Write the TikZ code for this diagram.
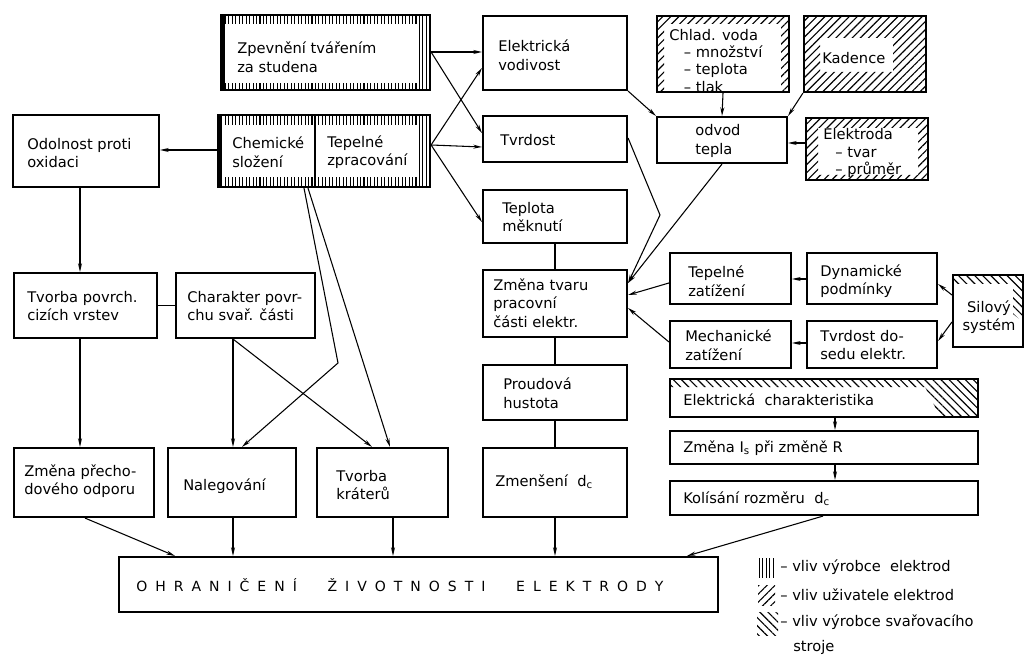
\documentclass[tikz,border=0pt]{standalone}
\usepackage{fontspec}
\setmainfont{DejaVu Sans}
\usetikzlibrary{arrows.meta,fit,patterns.meta}
\newcommand\lgapx{\hspace{6pt}}
\newcommand\wgapx{\hspace{23pt}}
\begin{document}
\begin{tikzpicture}[x=0.75pt,y=-0.75pt,
  box/.style={draw, line width=1.6pt, inner sep=0pt},
  txt/.style={font=\fontsize{11pt}{14pt}\selectfont, align=left, inner sep=0pt, anchor=west},
  lst/.style={font=\fontsize{11pt}{12.8pt}\selectfont, align=left, inner sep=0pt, anchor=west},
  con/.style={line width=0.8pt},
  arr/.style={con, -{Stealth[length=6.5pt,width=3pt]}},
  vh/.style={pattern={Lines[angle=90,distance=2.6pt,line width=0.8pt]}},
  uh/.style={pattern={Lines[angle=45,distance=4.3pt,line width=0.85pt]}},
  mh/.style={pattern={Lines[angle=-45,distance=4.3pt,line width=0.85pt]}},
]
\useasboundingbox (0,0) rectangle (1030,655);

% ---------- hatching (drawn first) ----------
% vliv vyrobce elektrod (vertical)
\fill (221,15) rectangle (225,90);
\fill[vh] (225,15) rectangle (418,24);
\fill[vh] (225,84) rectangle (418,90);
\fill[vh] (418,15) rectangle (430,90);
\fill (218,115) rectangle (222,187);
\fill[vh] (222,115) rectangle (418,125);
\fill[vh] (222,178) rectangle (418,187);
\fill[vh] (418,115) rectangle (430,187);
% vliv uzivatele (///)
\fill[uh, even odd rule] (657,16) rectangle (789,92) (664,24) rectangle (781,92);
\fill[uh, even odd rule] (804,16) rectangle (926,92) (820,38) rectangle (893,72);
\fill[uh, even odd rule] (806,118) rectangle (928,180) (818,128) rectangle (918,175);
% vliv vyrobce svarovaciho stroje (\\\)
\fill[mh] (953,275) -- (1023,275) -- (1023,322) -- (1013,314) -- (1013,284) -- (953,284) -- cycle;
\fill[mh] (670,379) -- (978,379) -- (978,417) -- (940,417) -- (925,387) -- (670,387) -- cycle;

% ---------- boxes ----------
\node[box, fit={(221,15)(430,90)}] (zp) {};
\node[box, fit={(218,115)(315,187)}] (chem) {};
\node[box, fit={(315,115)(430,187)}] (tep) {};
\node[box, fit={(13,115)(159,187)}] (odol) {};
\node[box, fit={(483,16)(627,90)}] (vod) {};
\node[box, fit={(483,116)(627,162)}] (tvr) {};
\node[box, fit={(483,190)(627,243)}] (tm) {};
\node[box, fit={(483,270)(627,337)}] (zt) {};
\node[box, fit={(483,365)(627,420)}] (ph) {};
\node[box, fit={(483,448)(627,517)}] (zm) {};
\node[box, fit={(657,16)(789,92)}] (chl) {};
\node[box, fit={(804,16)(926,92)}] (kad) {};
\node[box, fit={(657,117)(787,163)}] (odv) {};
\node[box, fit={(806,118)(928,180)}] (ele) {};
\node[box, fit={(670,253)(791,304)}] (tz) {};
\node[box, fit={(807,253)(937,304)}] (dyn) {};
\node[box, fit={(953,275)(1023,347)}] (sil) {};
\node[box, fit={(670,321)(791,368)}] (mz) {};
\node[box, fit={(807,321)(937,368)}] (td) {};
\node[box, fit={(670,379)(978,417)}] (ech) {};
\node[box, fit={(670,431)(978,464)}] (zis) {};
\node[box, fit={(670,481)(978,515)}] (kol) {};
\node[box, fit={(14,273)(157,338)}] (tpv) {};
\node[box, fit={(176,273)(315,338)}] (chp) {};
\node[box, fit={(14,448)(154,517)}] (zpo) {};
\node[box, fit={(168,448)(296,517)}] (nal) {};
\node[box, fit={(317,448)(448,517)}] (tk) {};
\node[box, fit={(119,557)(718,612)}] (ohr) {};

% ---------- texts ----------
\node[txt] (odolT) at (27,153) {Odolnost proti\\oxidaci};
\node[txt] (zpT) at (237,57) {Zpevnění tvářením\\za studena};
\node[txt] (chemT) at (232,152) {Chemické\\složení};
\node[txt] (tepT) at (327,152) {Tepelné\\zpracování};
\node[txt] (vodT) at (498,55) {Elektrická\\vodivost};
\node[txt] (tvrT) at (500,140) {Tvrdost};
\node[txt] (tmT) at (502,217) {Teplota\\měknutí};
\node[txt] (ztT) at (493,303) {Změna tvaru\\pracovní\\části elektr.};
\node[txt] (phT) at (503,393) {Proudová\\hustota};
\node[txt] (zmT) at (495,482) {Zmenšení\ \ d\textsubscript{c}};
\node[lst] (chlT) at (669,61) {Chlad. voda\\\quad– množství\\\quad– teplota\\\quad– tlak};
\node[txt] (kadT) at (822,58) {Kadence};
\node[txt] (odvT) at (695,141) {odvod\\tepla};
\node[lst] (eleT) at (823,153) {Elektroda\\\hspace{9pt}– tvar\\\hspace{9pt}– průměr};
\node[txt] (tzT) at (688,281) {Tepelné\\zatížení};
\node[txt] (dynT) at (820,281) {Dynamické\\podmínky};
\node[txt, align=center, anchor=center] (silT) at (989,317) {Silový\\systém};
\node[txt] (mzT) at (685,345) {Mechanické\\zatížení};
\node[txt] (tdT) at (820,345) {Tvrdost do-\\sedu elektr.};
\node[txt] (echT) at (683,400) {Elektrická\ \ charakteristika};
\node[txt] (zisT) at (683,448) {Změna I\textsubscript{s}\ při změně R};
\node[txt] (kolT) at (683,499) {Kolísání rozměru\ \ d\textsubscript{c}};
\node[txt] (tpvT) at (27,306) {Tvorba povrch.\\cizích vrstev};
\node[txt] (chpT) at (187,306) {Charakter povr-\\chu svař. části};
\node[txt] (zpoT) at (24,481) {Změna přecho-\\dového odporu};
\node[txt] (nalT) at (183,486) {Nalegování};
\node[txt] (tkT) at (336,485) {Tvorba\\kráterů};
\node[txt, font=\fontsize{10.5pt}{12pt}\selectfont] (ohrT) at (136,585)
  {O\lgapx H\lgapx R\lgapx A\lgapx N\lgapx I\lgapx Č\lgapx E\lgapx N\lgapx Í\wgapx Ž\lgapx I\lgapx V\lgapx O\lgapx T\lgapx N\lgapx O\lgapx S\lgapx T\lgapx I\wgapx E\lgapx L\lgapx E\lgapx K\lgapx T\lgapx R\lgapx O\lgapx D\lgapx Y};

% ---------- connectors ----------
\draw[arr] (chem.west |- 0,150) -- (odol.east |- 0,150);
\draw[arr] (zp.east |- 0,52) -- (vod.west |- 0,52);
\draw[arr] (zp.east |- 0,52) -- (tvr.west |- 0,133);
\draw[arr] (tep.east |- 0,145) -- (vod.west |- 0,68);
\draw[arr] (tep.east |- 0,145) -- (tvr.west |- 0,147);
\draw[arr] (tep.east |- 0,145) -- (tm.west |- 0,222);
\draw[arr] (vod.south east) -- (odv.north west);
\draw[arr] (chl.south) -- (odv.north);
\draw[arr] (kad.south west) -- (odv.north east);
\draw[arr] (ele.west |- 0,143) -- (odv.east |- 0,143);
\draw[arr] (odv.south) -- (zt.east |- 0,283);
\coordinate (tvrbend) at (660,215);
\draw[arr] (tvr.east |- 0,138) -- (tvrbend) -- (zt.east |- 0,283);
\draw[arr] (tz.west |- 0,283) -- (zt.east |- 0,295);
\draw[arr] (mz.west |- 0,342) -- (zt.east |- 0,308);
\draw[arr] (dyn.west |- 0,279) -- (tz.east |- 0,279);
\draw[arr] (td.west |- 0,343) -- (mz.east |- 0,343);
\draw[arr] (sil.west |- 0,295) -- (dyn.east |- 0,284);
\draw[arr] (sil.west |- 0,322) -- (td.east |- 0,341);
\draw[arr] (ech.south -| 835,0) -- (zis.north -| 835,0);
\draw[arr] (zis.south -| 835,0) -- (kol.north -| 835,0);
\draw[arr] (kol.south -| 823,0) -- (ohr.north -| 687,0);
\draw[arr] (zm.south) -- (ohr.north -| zm.south);
\draw[arr] (tk.south -| 393,0) -- (ohr.north -| 393,0);
\draw[arr] (nal.south -| 233,0) -- (ohr.north -| 233,0);
\draw[arr] (zpo.south -| 85,0) -- (ohr.north -| 175,0);
\draw[arr] (odol.south -| 80,0) -- (tpv.north -| 80,0);
\draw[arr] (tpv.south -| 80,0) -- (zpo.north -| 80,0);
\draw[con] (tpv.east) -- (chp.west);
\draw[arr] (chp.south -| 233,0) -- (nal.north -| 233,0);
\draw[arr] (chp.south -| 233,0) -- (tk.north -| 372,0);
\coordinate (chembend) at (338,363);
\draw[arr] (chem.south -| 304,0) -- (chembend) -- (nal.north -| 242,0);
\draw[arr] (chem.south -| 308,0) -- (tk.north -| 390,0);
\draw[con] (tm.south) -- (zt.north);
\draw[con] (zt.south) -- (ph.north);
\draw[con] (ph.south) -- (zm.north);

% ---------- legend ----------
\fill[vh] (758,558) rectangle (774,577);
\fill[uh] (758,585) rectangle (775,605);
\fill[mh] (757,612) rectangle (778,635);
\node[txt] (leg1) at (780,567) {– vliv výrobce\ \ elektrod};
\node[txt] (leg2) at (780,595) {– vliv uživatele elektrod};
\node[txt] (leg3) at (780,622) {– vliv výrobce svařovacího};
\node[txt] (leg4) at (793,647) {stroje};
\end{tikzpicture}
\end{document}
